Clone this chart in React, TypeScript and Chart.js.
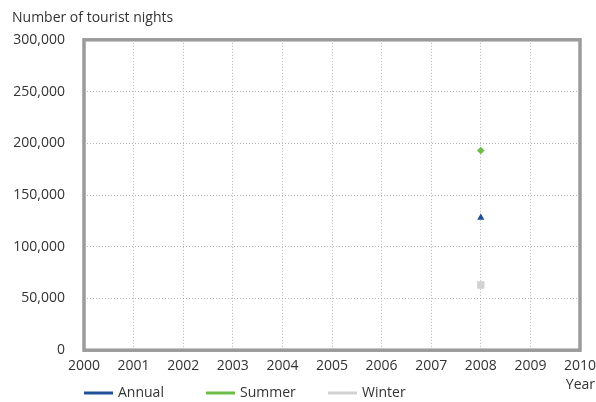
import React, { useEffect, useRef } from "react";
import { Chart, registerables } from "chart.js";

Chart.register(...registerables);

const seriesNames = ["Annual", "Summer", "Winter"];
const seriesColors = ["#1f5099", "#6cbd45", "#d2d2d2"];
const pointStyles = ["triangle", "rectRot", "rect"];
const pointRadii = [4.2, 3.8, 5.2];
const pointYears = [2008];
const annualValues = [128000];
const summerValues = [193000];
const winterValues = [63000];
const xTickMin = 2000;
const xTickMax = 2010;
const yTickMax = 300000;
const yTickStep = 50000;
const xAxisTitle = "Year";

const FONT = "'Open Sans', 'Noto Sans', sans-serif";
const TEXT = "#333333";
const FS = 14;

const framePlugin = {
  id: "frame",
  beforeDatasetsDraw(chart: any) {
    const { ctx, chartArea } = chart;
    ctx.save();
    ctx.strokeStyle = "#9b9b9b";
    ctx.lineWidth = 3.5;
    ctx.strokeRect(chartArea.left, chartArea.top, chartArea.right - chartArea.left, chartArea.bottom - chartArea.top);
    ctx.restore();
  },
};

const lineLegendPlugin = {
  id: "lineLegend",
  afterDraw(chart: any) {
    const { ctx, chartArea } = chart;
    const y = chart.height - 9;
    let x = chartArea.left;
    ctx.save();
    ctx.font = `${FS}px ${FONT}`;
    ctx.textBaseline = "middle";
    chart.data.datasets.forEach((ds: any) => {
      ctx.strokeStyle = ds.legendColor;
      ctx.lineWidth = 3;
      ctx.beginPath();
      ctx.moveTo(x, y);
      ctx.lineTo(x + 29, y);
      ctx.stroke();
      ctx.fillStyle = TEXT;
      ctx.fillText(ds.label, x + 34, y);
      x += 122;
    });
    // x axis title, right-aligned to the canvas edge
    ctx.textAlign = "right";
    ctx.fillText(xAxisTitle, chart.width - 1, chartArea.bottom + 35);
    ctx.restore();
  },
};

const valueSets = [annualValues, summerValues, winterValues];

export default function App() {
  const ref = useRef<HTMLCanvasElement>(null);
  useEffect(() => {
    if (!ref.current) return;
    const datasets = seriesNames.map((name, i) => ({
      label: name,
      data: pointYears.map((yr, j) => ({ x: yr, y: valueSets[i][j] })),
      showLine: false,
      pointStyle: pointStyles[i],
      pointRadius: pointRadii[i],
      pointBackgroundColor: seriesColors[i],
      pointBorderWidth: 0,
      borderColor: seriesColors[i],
      backgroundColor: seriesColors[i],
      legendColor: seriesColors[i],
    }));
    const chart = new Chart(ref.current, {
      type: "scatter",
      data: { datasets } as any,
      options: {
        animation: false,
        responsive: true,
        maintainAspectRatio: false,
        layout: { padding: { left: 12, right: 0, top: 0, bottom: 21 } },
        plugins: {
          legend: { display: false },
          tooltip: { enabled: false },
          title: {
            display: true,
            text: "Number of tourist nights",
            align: "start",
            color: TEXT,
            font: { family: FONT, size: FS, weight: "normal" },
            padding: { top: 10, bottom: 13 },
          },
        },
        scales: {
          x: {
            type: "linear",
            min: xTickMin,
            max: xTickMax,
            grid: { color: "#b3b3b3", drawTicks: false, lineWidth: 1 },
            border: { display: false, dash: [1, 2] },
            ticks: {
              stepSize: 1,
              padding: 7,
              color: TEXT,
              font: { family: FONT, size: FS },
              callback: (v: any) => String(v),
              maxRotation: 0,
            },
            afterFit: (s: any) => {
              s.paddingRight = 16;
              s.paddingLeft = 0;
            },
          },
          y: {
            min: 0,
            max: yTickMax,
            grid: { color: "#b3b3b3", drawTicks: false, lineWidth: 1 },
            border: { display: false, dash: [1, 2] },
            ticks: {
              stepSize: yTickStep,
              padding: 19,
              color: TEXT,
              font: { family: FONT, size: FS },
              callback: (v: any) => Number(v).toLocaleString("en-US"),
            },
            afterFit: (s: any) => {
              s.width = 72;
            },
          },
        },
      } as any,
      plugins: [framePlugin, lineLegendPlugin],
    });
    return () => chart.destroy();
  }, []);
  return (
    <div style={{ position: "absolute", left: 0, top: 0, width: 596, height: 402 }}>
      <canvas ref={ref} />
    </div>
  );
}
